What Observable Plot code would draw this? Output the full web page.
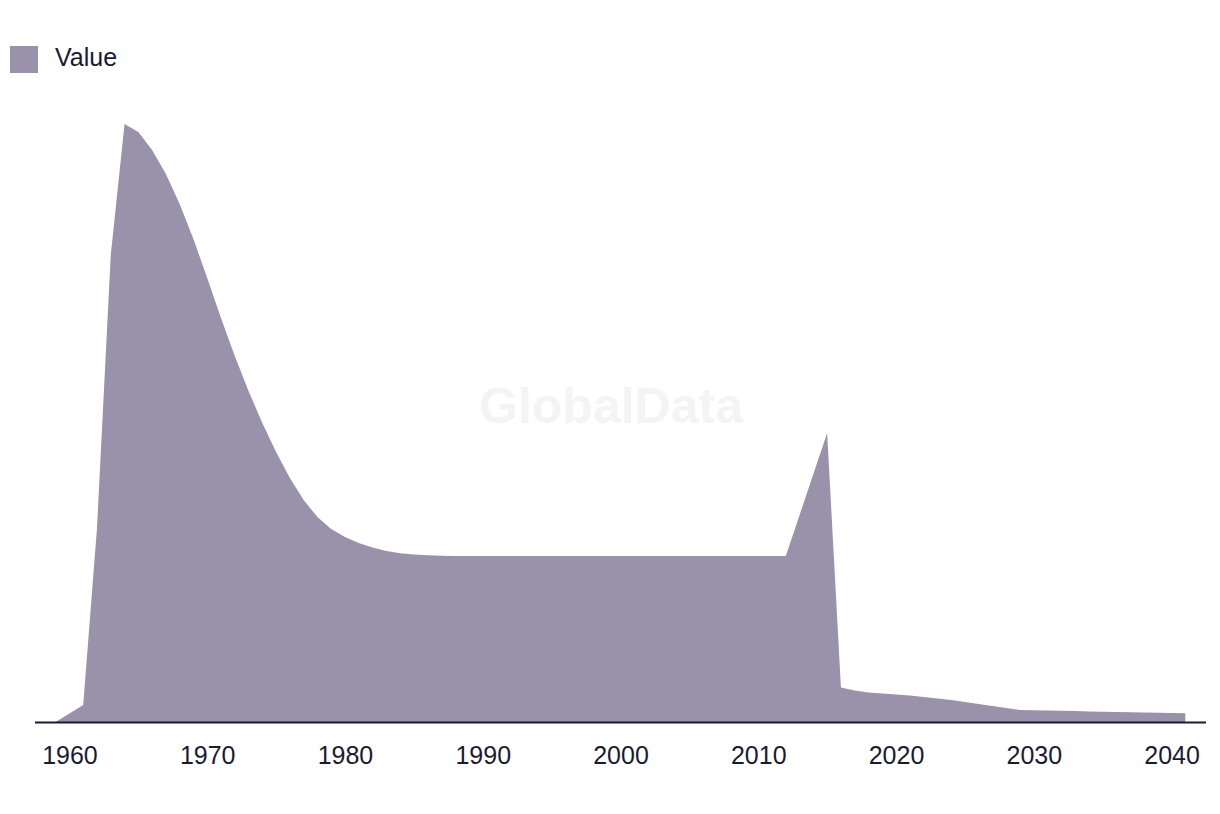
<!DOCTYPE html>
<html>
<head>
<meta charset="utf-8">
<script src="https://cdn.jsdelivr.net/npm/d3@7"></script>
<script src="https://cdn.jsdelivr.net/npm/@observablehq/plot@0.6"></script>
<style>
  html, body { margin: 0; padding: 0; background: #ffffff; }
  body { width: 1220px; height: 814px; overflow: hidden; font-family: "Liberation Sans", Arial, sans-serif; }
  #legend { position: relative; height: 90px; }
  #legend .sw { position: absolute; left: 10px; top: 46px; width: 28px; height: 27px; background: #9a91aa; }
  #legend .lb { position: absolute; left: 55px; top: 43px; font-size: 25px; line-height: 28px; color: #1b1a33; }
  #chart svg { display: block; }
</style>
</head>
<body>
<div id="legend"><div class="sw"></div><div class="lb">Value</div></div>
<div id="chart"></div>
<script>
const seriesName = "Value";
const years = [
  1959, 1960, 1961, 1962, 1963, 1964, 1965, 1966, 1967, 1968,
  1969, 1970, 1971, 1972, 1973, 1974, 1975, 1976, 1977, 1978,
  1979, 1980, 1981, 1982, 1983, 1984, 1985, 1986, 1987, 1988,
  1989, 1990, 1991, 1992, 1993, 1994, 1995, 1996, 1997, 1998,
  1999, 2000, 2001, 2002, 2003, 2004, 2005, 2006, 2007, 2008,
  2009, 2010, 2011, 2012, 2013, 2014, 2015, 2016, 2017, 2018,
  2019, 2020, 2021, 2022, 2023, 2024, 2025, 2026, 2027, 2028,
  2029, 2030, 2031, 2032, 2033, 2034, 2035, 2036, 2037, 2038,
  2039, 2040, 2041
];
const values = [
  0, 0.85, 1.7, 19.4, 46.7, 59.8, 59.0, 57.2, 54.8, 51.8,
  48.3, 44.4, 40.4, 36.6, 33.1, 29.9, 27.0, 24.4, 22.2, 20.5,
  19.3, 18.5, 17.9, 17.45, 17.1, 16.88, 16.74, 16.67, 16.62, 16.6,
  16.6, 16.6, 16.6, 16.6, 16.6, 16.6, 16.6, 16.6, 16.6, 16.6,
  16.6, 16.6, 16.6, 16.6, 16.6, 16.6, 16.6, 16.6, 16.6, 16.6,
  16.6, 16.6, 16.6, 16.6, 20.7, 24.8, 28.9, 3.45, 3.15, 2.95,
  2.85, 2.75, 2.65, 2.5, 2.35, 2.2, 2.0, 1.8, 1.6, 1.4,
  1.2, 1.17, 1.14, 1.12, 1.09, 1.06, 1.03, 1.0, 0.97, 0.95,
  0.92, 0.89, 0.87
];
const tickYears = [1960, 1970, 1980, 1990, 2000, 2010, 2020, 2030, 2040];
const watermark = "GlobalData";

const data = years.map((year, i) => ({year, value: values[i], series: seriesName}));

const chart = Plot.plot({
  width: 1220,
  height: 724,
  marginLeft: 35,
  marginRight: 14,
  marginTop: 32,
  marginBottom: 92,
  style: {fontFamily: "'Liberation Sans', Arial, sans-serif", fontSize: "25px", color: "#1b1a33", background: "#ffffff"},
  x: {domain: [1957.5, 2042.5], ticks: tickYears, tickFormat: d => String(d), tickSize: 0, tickPadding: 24, label: null},
  y: {domain: [0, 60], axis: null},
  marks: [
    Plot.text([watermark], {frameAnchor: "middle", dx: -10, dy: -16, text: d => d, fontSize: 50, fontWeight: "bold", fill: "#f4f4f4"}),
    Plot.areaY(data, {x: "year", y: "value", fill: "#9a91aa", curve: "linear"}),
    Plot.ruleY([0], {stroke: "#1b1a33", strokeWidth: 2})
  ]
});
document.getElementById("chart").appendChild(chart);
</script>
</body>
</html>
